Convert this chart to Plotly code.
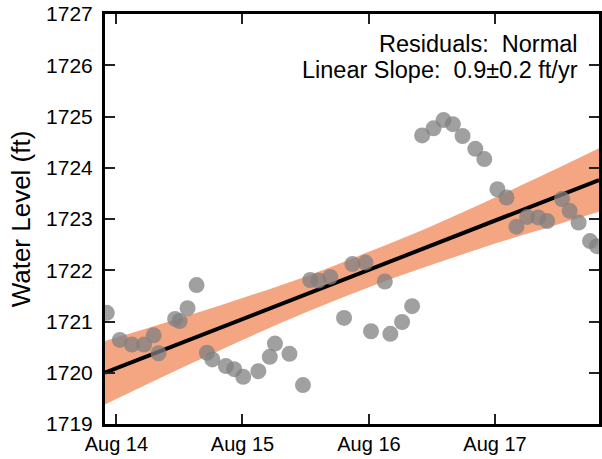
import plotly.graph_objects as go

# observed water level samples
dates = ["2014-07-04", "2014-08-11", "2014-09-15", "2014-10-20", "2014-11-17",
         "2014-12-01", "2015-01-18", "2015-01-31", "2015-02-23", "2015-03-21",
         "2015-04-20", "2015-05-06", "2015-06-14", "2015-07-08", "2015-08-03",
         "2015-09-16", "2015-10-19", "2015-11-03", "2015-12-15", "2016-01-23",
         "2016-02-13", "2016-03-08", "2016-04-11", "2016-05-21", "2016-06-14",
         "2016-07-22", "2016-08-07", "2016-09-16", "2016-10-02", "2016-11-05",
         "2016-12-04", "2017-01-02", "2017-02-04", "2017-03-05", "2017-04-01",
         "2017-04-29", "2017-06-05", "2017-07-01", "2017-08-08", "2017-09-03",
         "2017-10-02", "2017-11-02", "2017-12-04", "2017-12-30", "2018-02-11",
         "2018-03-05", "2018-03-31", "2018-05-03", "2018-05-23"]
levels = [1721.17, 1720.64, 1720.55, 1720.55, 1720.73,
          1720.38, 1721.05, 1721.01, 1721.26, 1721.71,
          1720.39, 1720.26, 1720.13, 1720.07, 1719.92,
          1720.03, 1720.31, 1720.57, 1720.37, 1719.76,
          1721.81, 1721.80, 1721.87, 1721.07, 1722.12,
          1722.15, 1720.81, 1721.78, 1720.76, 1720.99,
          1721.30, 1724.63, 1724.77, 1724.93, 1724.85,
          1724.62, 1724.37, 1724.17, 1723.58, 1723.42,
          1722.85, 1723.04, 1723.03, 1722.96, 1723.39,
          1723.16, 1722.93, 1722.57, 1722.47]

# linear trend and its confidence band
trend_dates = ["2014-06-29", "2018-05-29"]
trend_vals = [1720.00, 1723.76]

band_dates = ["2014-06-29", "2015-01-01", "2015-08-01", "2016-02-01", "2016-08-01",
              "2017-02-01", "2017-08-01", "2018-02-01", "2018-05-29"]
band_upper = [1720.62, 1721.00, 1721.46, 1721.88, 1722.36, 1722.87, 1723.42, 1724.00, 1724.38]
band_lower = [1719.38, 1719.98, 1720.64, 1721.18, 1721.67, 1722.11, 1722.52, 1722.90, 1723.14]

tick_dates = ["2014-08-01", "2015-08-01", "2016-08-01", "2017-08-01"]

band_col = "rgb(244,165,130)"
font = "Liberation Sans, Arial, sans-serif"

fig = go.Figure()
fig.add_trace(go.Scatter(x=band_dates, y=band_lower, mode="lines", line=dict(width=0, color=band_col, shape="spline"),
                         hoverinfo="skip", showlegend=False))
fig.add_trace(go.Scatter(x=band_dates, y=band_upper, mode="lines", line=dict(width=0, color=band_col, shape="spline"),
                         fill="tonexty", fillcolor=band_col, hoverinfo="skip", showlegend=False))
fig.add_trace(go.Scatter(x=trend_dates, y=trend_vals, mode="lines", line=dict(color="black", width=4),
                         showlegend=False))
fig.add_trace(go.Scatter(x=dates, y=levels, mode="markers",
                         marker=dict(size=16, color="rgb(128,128,128)", opacity=0.75, line=dict(width=0)),
                         showlegend=False))

fig.add_annotation(x=0.962, y=0.927, xref="paper", yref="paper", xanchor="right", yanchor="middle",
                   text="Residuals:\u00a0 Normal", showarrow=False, font=dict(size=23.5, color="black", family=font))
fig.add_annotation(x=0.962, y=0.863, xref="paper", yref="paper", xanchor="right", yanchor="middle",
                   text="Linear Slope:\u00a0 0.9±0.2 ft/yr", showarrow=False, font=dict(size=23.5, color="black", family=font))

fig.update_xaxes(range=["2014-06-29", "2018-05-29"], tickvals=tick_dates, tickformat="%b %y",
                 ticks="inside", ticklen=10, tickwidth=1.5, tickcolor="#222",
                 showline=True, linewidth=3, linecolor="black", mirror="ticks",
                 showgrid=False, zeroline=False, tickfont=dict(size=20, color="black", family=font))
fig.update_yaxes(range=[1719, 1727], dtick=1, tickformat="d",
                 ticks="inside", ticklen=10, tickwidth=1.5, tickcolor="#222",
                 showline=True, linewidth=3, linecolor="black", mirror="ticks",
                 showgrid=False, zeroline=False, ticklabelstandoff=5,
                 tickfont=dict(size=21, color="black", family=font),
                 title=dict(text="Water Level (ft)", font=dict(size=26, color="black", family=font), standoff=8))

fig.update_layout(width=602, height=459, margin=dict(l=105, r=0, t=14, b=35),
                  plot_bgcolor="white", paper_bgcolor="white", font=dict(family=font))

fig.write_html("out.html", config={"displayModeBar": False},
               post_script="document.body.style.margin='0';")
